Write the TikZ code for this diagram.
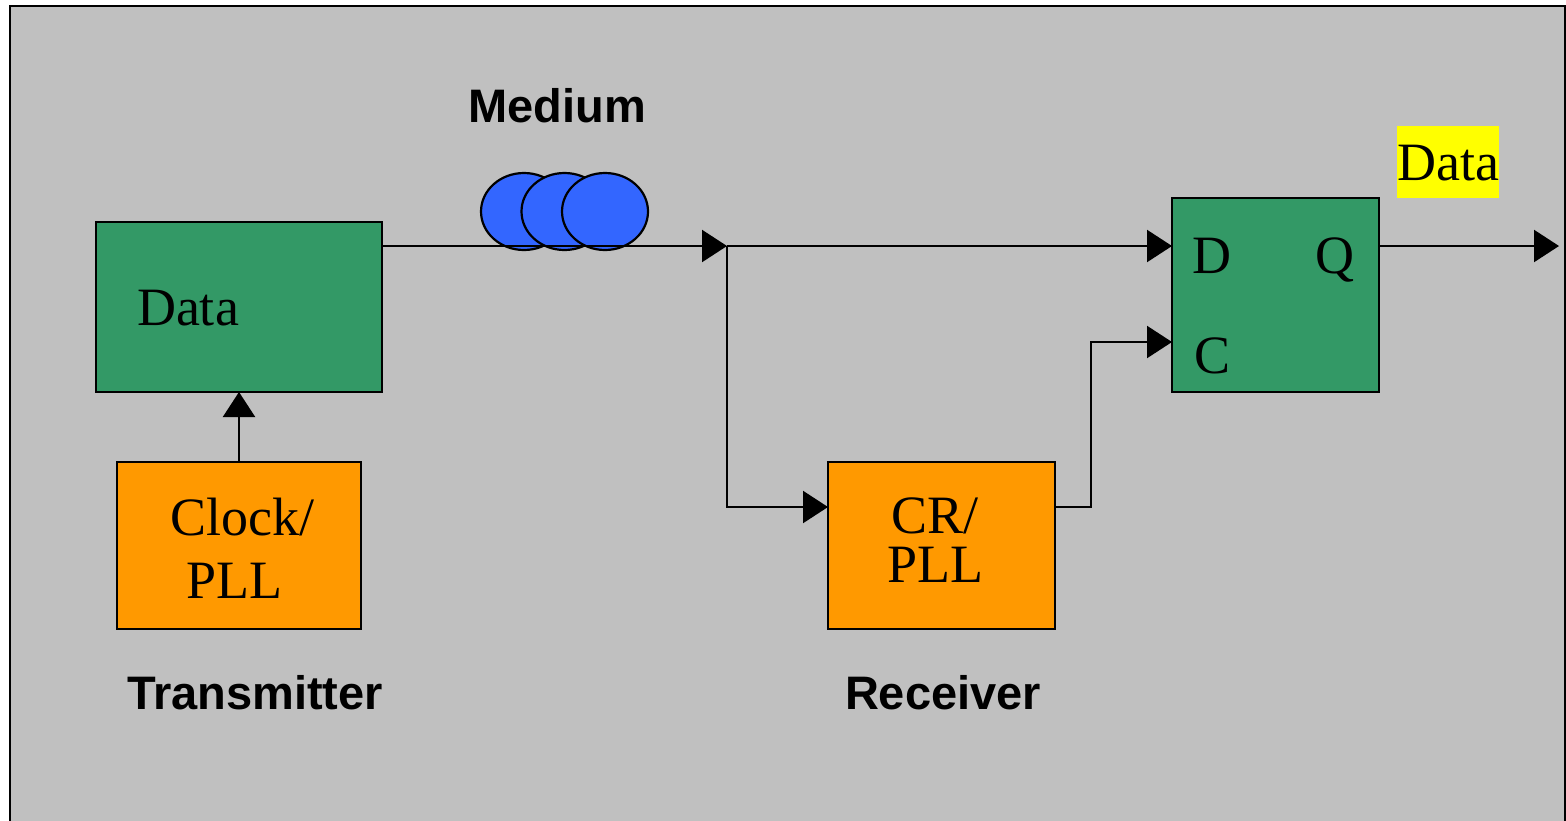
\documentclass[tikz,border=0pt]{standalone}
\usepackage{fontspec}
\setmainfont{Liberation Serif}
\setsansfont{Liberation Sans}
\usetikzlibrary{arrows.meta,calc}
\definecolor{bgGrey}{HTML}{C0C0C0}
\definecolor{boxGreen}{HTML}{339966}
\definecolor{boxOrange}{HTML}{FF9900}
\definecolor{medBlue}{HTML}{3366FF}
\definecolor{labYellow}{HTML}{FFFF00}
\tikzset{
  blk/.style={draw=black,line width=1.1pt,inner sep=0pt,outer sep=0pt},
  greenblk/.style={blk,fill=boxGreen},
  orangeblk/.style={blk,fill=boxOrange},
  conn/.style={line width=1.1pt,draw=black},
  arr/.style={conn,-{Triangle[length=12.5pt,width=16pt]}},
  serif/.style={font=\fontsize{27}{24.5}\selectfont,anchor=base,inner sep=0pt},
  sanslab/.style={font=\sffamily\bfseries\fontsize{23.5}{26}\selectfont,anchor=base,inner sep=0pt},
  medium/.style={draw=black,line width=1.1pt,fill=medBlue}
}
\begin{document}
\begin{tikzpicture}[x=0.5pt,y=-0.5pt]
\useasboundingbox (0,0) rectangle (1566,820);
\fill[white] (0,0) rectangle (1566,820);
\filldraw[fill=bgGrey,draw=black,line width=1.1pt] (10,830) -- (10,6) -- (1565,6) -- (1565,830);

% blocks
\node[greenblk,minimum width=143pt,minimum height=85pt] (txd) at (239,307) {};
\node[orangeblk,minimum width=122pt,minimum height=83.5pt] (clk) at (239,545.5) {};
\node[orangeblk,minimum width=113.5pt,minimum height=83.5pt] (cr) at (941.5,545.5) {};
\node[greenblk,minimum width=103.5pt,minimum height=97pt] (dff) at (1275.5,295) {};

% texts in blocks
\node[serif] (tdata) at (188,325) {Data};
\node[serif] (tclk) at (242,535) {Clock/};
\node[serif] (tpll) at (234,598) {PLL};
\node[serif,anchor=north,align=center] (tcr) at (935,497) {CR/\\PLL};
\node[serif] (td) at (1212,273) {D};
\node[serif] (tq) at (1335,273) {Q};
\node[serif] (tc) at (1212,373) {C};

% output data label
\node[fill=labYellow,minimum width=51pt,minimum height=36pt,inner sep=0pt] (ylab) at (1448,162) {};
\node[serif] (tout) at (1448,180) {Data};

% labels
\node[sanslab] (lmed) at (557,122) {Medium};
\node[sanslab] (ltx) at (255,709) {Transmitter};
\node[sanslab] (lrx) at (943,709) {Receiver};

% medium
\draw[medium] (524,211.5) ellipse [x radius=43, y radius=38.5];
\draw[medium] (564.5,211.5) ellipse [x radius=43, y radius=38.5];
\draw[medium] (605,211.5) ellipse [x radius=43, y radius=38.5];

% connectors
\coordinate (split) at (727,246);
\coordinate (crin) at ($(cr.north west)+(0,45)$);
\coordinate (crout) at ($(cr.north east)+(0,45)$);
\coordinate (din) at (dff.west |- split);
\coordinate (cin) at ($(dff.north west)+(0,144)$);
\coordinate (qout) at (dff.east |- split);
\coordinate (dataout) at (1559,246);
\coordinate (bend) at (1091,0);

\draw[arr] (clk.north) -- (txd.south);
\draw[arr] (txd.east |- split) -- (split);
\draw[arr] (split) -- (din);
\draw[arr] (split) |- (crin);
\draw[arr] (crout) -- (bend |- crout) -- (bend |- cin) -- (cin);
\draw[arr] (qout) -- (dataout);
\end{tikzpicture}
\end{document}
